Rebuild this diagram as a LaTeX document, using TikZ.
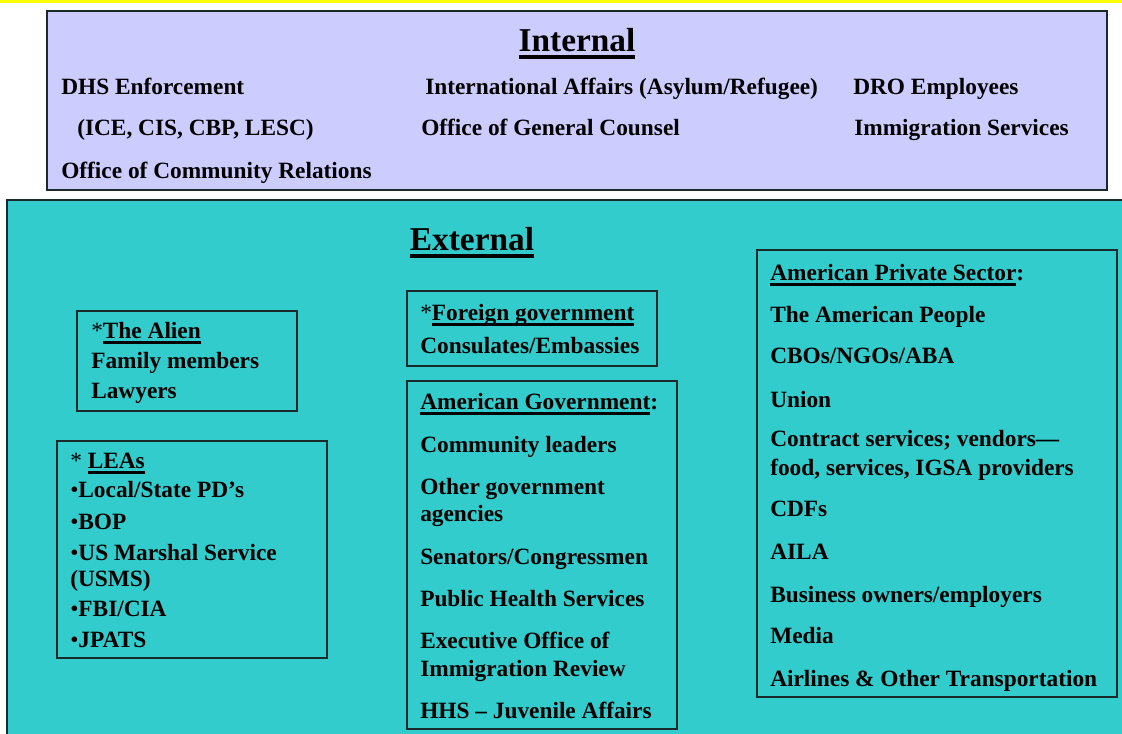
\documentclass[tikz,border=0pt]{standalone}
\usepackage{fontspec}
\setmainfont{Liberation Serif}
\usetikzlibrary{fit}
\definecolor{intfill}{HTML}{CCCCFF}
\definecolor{extfill}{HTML}{33CCCC}
\definecolor{bandyellow}{HTML}{FFFF00}
\definecolor{edge}{HTML}{1A2A2A}
\newsavebox\ulbox
\newcommand\ulx[1]{\sbox\ulbox{#1}\rlap{\rule[-3.5pt]{\wd\ulbox}{2pt}}\usebox\ulbox}
\newcommand\ultitle[1]{\sbox\ulbox{#1}\rlap{\rule[-5pt]{\wd\ulbox}{2.6pt}}\usebox\ulbox}
\newcommand\myast{{\mdseries *}}
\newcommand\mybul{{\mdseries •}}
\begin{document}
\begin{tikzpicture}[x=0.75pt,y=-0.75pt,
  txt/.style={anchor=base west, inner sep=0pt, font=\bfseries\fontsize{17.5}{20}\selectfont},
  ttl/.style={anchor=base, inner sep=0pt, font=\bfseries\fontsize{25}{30}\selectfont},
  box/.style={draw=edge, line width=1.1pt, inner sep=0pt},
]
\useasboundingbox (0,0) rectangle (1122,734);
\fill[white] (0,0) rectangle (1122,734);
\fill[bandyellow] (0,0) rectangle (1122,3.5);
% Internal
\node[box, fill=intfill, fit={(47,11) (1107,190)}] (internal) {};
\node[ttl] (inttitle) at (577,52) {\ultitle{Internal}};
\node[txt] (i1) at (61,95) {DHS Enforcement};
\node[txt] (i2) at (77,136) {(ICE, CIS, CBP, LESC)};
\node[txt] (i3) at (61,179) {Office of Community Relations};
\node[txt] (i4) at (425,95) {International Affairs (Asylum/Refugee)};
\node[txt] (i5) at (421,136) {Office of General Counsel};
\node[txt] (i6) at (853,95) {DRO Employees};
\node[txt] (i7) at (854,136) {Immigration Services};
% External
\node[box, fill=extfill, fit={(7,200) (1130,745)}] (external) {};
\node[ttl] (exttitle) at (472,251) {\ultitle{External}};
% Alien
\node[box, fit={(77,311) (297,411)}] (alien) {};
\node[txt] (a1) at (91,339) {\myast\ulx{The Alien}};
\node[txt] (a2) at (91,369) {Family members};
\node[txt] (a3) at (91,399) {Lawyers};
% LEAs
\node[box, fit={(57,441) (327,658)}] (leas) {};
\node[txt] (l1) at (70,469) {\myast{} \ulx{LEAs}};
\node[txt] (l2) at (70,498) {\mybul Local/State PD’s};
\node[txt] (l3) at (70,529) {\mybul BOP};
\node[txt] (l4) at (70,560) {\mybul US Marshal Service};
\node[txt] (l5) at (70,586) {(USMS)};
\node[txt] (l6) at (70,616) {\mybul FBI/CIA};
\node[txt] (l7) at (70,647) {\mybul JPATS};
% Foreign government
\node[box, fit={(407,291) (657,366)}] (foreign) {};
\node[txt] (f1) at (420,321) {\myast\ulx{Foreign government}};
\node[txt] (f2) at (420,354) {Consulates/Embassies};
% American Government
\node[box, fit={(407,381) (677,729)}] (amgov) {};
\node[txt] (g1) at (420,410) {\ulx{American Government}:};
\node[txt] (g2) at (420,453) {Community leaders};
\node[txt] (g3) at (420,494) {Other government};
\node[txt] (g4) at (420,522) {agencies};
\node[txt] (g5) at (420,564) {Senators/Congressmen};
\node[txt] (g6) at (420,606) {Public Health Services};
\node[txt] (g7) at (420,648) {Executive Office of};
\node[txt] (g8) at (420,676) {Immigration Review};
\node[txt] (g9) at (420,718) {HHS – Juvenile Affairs};
% American Private Sector
\node[box, fit={(757,250) (1117,697)}] (private) {};
\node[txt] (p1) at (770,281) {\ulx{American Private Sector}:};
\node[txt] (p2) at (770,323) {The American People};
\node[txt] (p3) at (770,364) {CBOs/NGOs/ABA};
\node[txt] (p4) at (770,407) {Union};
\node[txt] (p5) at (770,447) {Contract services; vendors—};
\node[txt] (p6) at (770,475) {food, services, IGSA providers};
\node[txt] (p7) at (770,517) {CDFs};
\node[txt] (p8) at (770,559) {AILA};
\node[txt] (p9) at (770,602) {Business owners/employers};
\node[txt] (p10) at (770,643) {Media};
\node[txt] (p11) at (770,686) {Airlines \& Other Transportation};
\end{tikzpicture}
\end{document}
